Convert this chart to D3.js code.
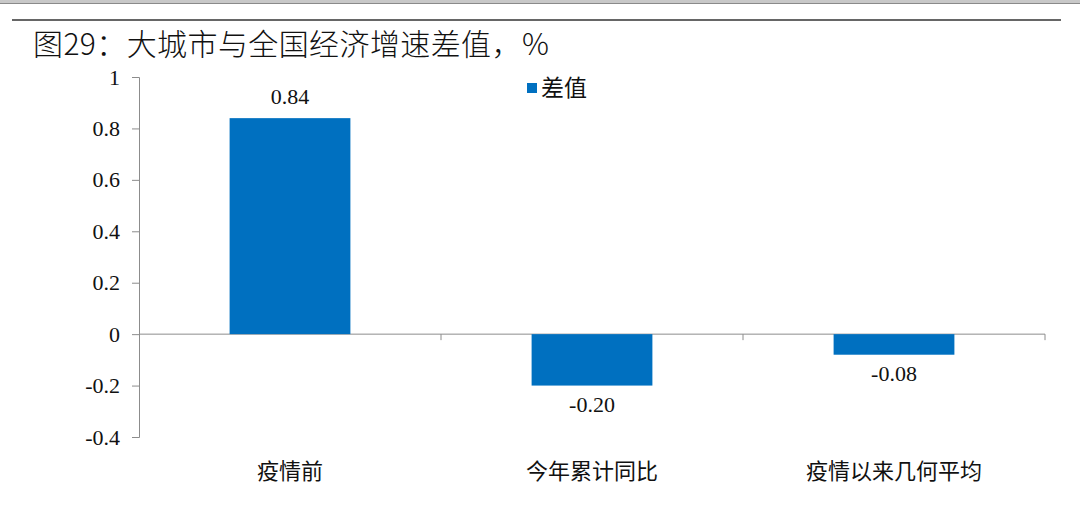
<!DOCTYPE html>
<html>
<head>
<meta charset="utf-8">
<script src="https://cdn.jsdelivr.net/npm/d3@7"></script>
<style>
  body { margin: 0; background: #fff; }
</style>
</head>
<body>
<div id="vis"></div>
<script>
const categories = ["疫情前", "今年累计同比", "疫情以来几何平均"];
const values = [0.84, -0.20, -0.08];
const valueLabels = ["0.84", "-0.20", "-0.08"];
const yTicks = [-0.4, -0.2, 0, 0.2, 0.4, 0.6, 0.8, 1];
const seriesName = "差值";
const title = "图29：大城市与全国经济增速差值，%";

const width = 1080, height = 521;
const svg = d3.select("#vis")
    .append("svg")
    .attr("width", width)
    .attr("height", height);

svg.append("rect")
    .attr("width", width)
    .attr("height", height)
    .attr("fill", "#ffffff");

// top strip + rule under the clipped header
svg.append("rect")
    .attr("x", 0).attr("y", 0)
    .attr("width", width).attr("height", 3)
    .attr("fill", "#c8c8c8");
svg.append("line")
    .attr("x1", 0).attr("x2", width)
    .attr("y1", 3.5).attr("y2", 3.5)
    .attr("stroke", "#8a8a8a");
svg.append("line")
    .attr("x1", 12).attr("x2", 1061)
    .attr("y1", 20).attr("y2", 20)
    .attr("stroke", "#333")
    .attr("stroke-width", 1.5);

svg.append("text")
    .attr("x", 33)
    .attr("y", 55)
    .attr("font-family", "'Noto Sans CJK SC', sans-serif")
    .attr("font-size", 30)
    .attr("font-weight", 300)
    .attr("letter-spacing", 0.4)
    .attr("fill", "#111")
    .text(title);

const x = d3.scaleBand()
    .domain(categories)
    .range([139, 1045])
    .paddingInner(0.6)
    .paddingOuter(0.3);

const y = d3.scaleLinear()
    .domain([-0.4, 1])
    .range([437, 77]);

const axisColor = "#8c8c8c";
const serif = "'Liberation Serif', 'Times New Roman', serif";

// y axis
const yAxis = svg.append("g")
    .attr("transform", "translate(139,0)")
    .call(d3.axisLeft(y).tickValues(yTicks).tickSize(7).tickPadding(12)
        .tickFormat(d => String(+d.toFixed(1))));
yAxis.select(".domain").attr("stroke", axisColor);
yAxis.selectAll(".tick line").attr("stroke", axisColor);
yAxis.selectAll(".tick text")
    .attr("font-family", serif)
    .attr("font-size", 22)
    .attr("fill", "#111");

// category boundary ticks along zero line
const step = x.step();
const bounds = [0, 1, 2, 3].map(i => x.range()[0] + i * step);
svg.append("line")
    .attr("x1", 139).attr("x2", 1045)
    .attr("y1", y(0)).attr("y2", y(0))
    .attr("stroke", axisColor);
svg.selectAll(".cattick")
    .data(bounds.slice(1))
    .enter()
    .append("line")
    .attr("x1", d => d).attr("x2", d => d)
    .attr("y1", y(0)).attr("y2", y(0) + 6)
    .attr("stroke", axisColor);

// bars
svg.selectAll(".bar")
    .data(values)
    .enter()
    .append("rect")
    .attr("x", (d, i) => x(categories[i]))
    .attr("width", x.bandwidth())
    .attr("y", d => y(Math.max(0, d)))
    .attr("height", d => Math.abs(y(d) - y(0)))
    .attr("fill", "#0070c0");

// value labels
svg.selectAll(".vlabel")
    .data(values)
    .enter()
    .append("text")
    .attr("x", (d, i) => x(categories[i]) + x.bandwidth() / 2)
    .attr("y", d => d >= 0 ? y(d) - 19 : y(d) + 21)
    .attr("text-anchor", "middle")
    .attr("dominant-baseline", "middle")
    .attr("font-family", serif)
    .attr("font-size", 22)
    .attr("fill", "#111")
    .text((d, i) => valueLabels[i]);

// category labels
svg.selectAll(".clabel")
    .data(categories)
    .enter()
    .append("text")
    .attr("x", d => x(d) + x.bandwidth() / 2)
    .attr("y", 473)
    .attr("text-anchor", "middle")
    .attr("dominant-baseline", "middle")
    .attr("font-family", "'Noto Sans CJK SC', sans-serif")
    .attr("font-size", 22)
    .attr("fill", "#111")
    .text(d => d);

// legend
svg.append("rect")
    .attr("x", 527).attr("y", 83)
    .attr("width", 10).attr("height", 10)
    .attr("fill", "#0070c0");
svg.append("text")
    .attr("x", 541)
    .attr("y", 90)
    .attr("dominant-baseline", "middle")
    .attr("font-family", "'Noto Sans CJK SC', sans-serif")
    .attr("font-size", 23)
    .attr("fill", "#111")
    .text(seriesName);
</script>
</body>
</html>
